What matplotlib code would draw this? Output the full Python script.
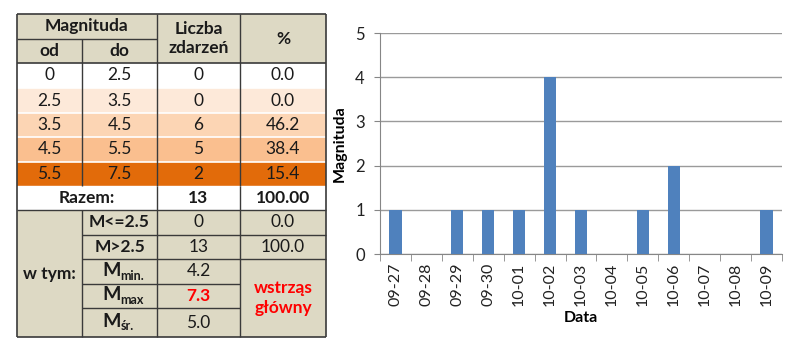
import matplotlib
matplotlib.use('Agg')
from matplotlib import pyplot as plt
from matplotlib.patches import Rectangle
import numpy as np

plt.rcParams['font.family'] = ['Lato', 'DejaVu Sans']

# chart data
dates = ['09-27', '09-28', '09-29', '09-30', '10-01', '10-02', '10-03',
         '10-04', '10-05', '10-06', '10-07', '10-08', '10-09']
counts = [1, 0, 1, 1, 1, 4, 1, 0, 1, 2, 0, 0, 1]

# table data
mag_from = ['0', '2.5', '3.5', '4.5', '5.5']
mag_to = ['2.5', '3.5', '4.5', '5.5', '7.5']
n_events = ['0', '0', '6', '5', '2']
percent = ['0.0', '0.0', '46.2', '38.4', '15.4']
total_n = '13'
total_pct = '100.00'
sub_names = [('M', '<=2.5'), ('M', '>2.5'), ('M', 'min.'), ('M', 'max'), ('M', 'śr.')]
sub_n = ['0', '13', '4.2', '7.3', '5.0']
sub_pct = ['0.0', '100.0']
note = 'wstrząs\ngłówny'

row_colors = ['#FFFFFF', '#FDE9D9', '#FCD5B4', '#FABF8F', '#E26B0A']
tan = '#DDD9C4'
edge = '#3a3a3a'

fig = plt.figure(figsize=(8, 3.48), dpi=100)

# ---- table, drawn in pixel coordinates
ax_t = fig.add_axes([0, 0, 1, 1])
ax_t.set_xlim(0, 800)
ax_t.set_ylim(348, 0)
ax_t.axis('off')

cx = [17, 82, 157, 240, 326]
ry = [14, 38.5, 63, 88, 113, 137, 162, 185.5, 210, 234.5, 259, 284, 308, 337]
fs = 12.5


def cell(c0, c1, r0, r1, fc, txt=None, bold=False, color='#1a1a1a', size=fs):
    x0, x1 = cx[c0], cx[c1]
    y0, y1 = ry[r0], ry[r1]
    ax_t.add_patch(Rectangle((x0, y0), x1 - x0, y1 - y0, facecolor=fc,
                             edgecolor='none', zorder=1))
    if txt is not None:
        ax_t.text((x0 + x1) / 2, (y0 + y1) / 2, txt, ha='center', va='center',
                  fontsize=size, fontweight='bold' if bold else 'normal',
                  color=color, zorder=3, linespacing=1.25)


def hline(c0, c1, y, color=edge, lw=1.0):
    ax_t.plot([cx[c0], cx[c1]], [y, y], color=color, lw=lw, zorder=2,
              solid_capstyle='butt')


def vline(x, r0, r1, color=edge, lw=1.0):
    ax_t.plot([x, x], [ry[r0], ry[r1]], color=color, lw=lw, zorder=2,
              solid_capstyle='butt')


# header
cell(0, 2, 0, 1, tan, 'Magnituda', bold=True)
cell(0, 1, 1, 2, tan, 'od', bold=True)
cell(1, 2, 1, 2, tan, 'do', bold=True)
cell(2, 3, 0, 2, tan, 'Liczba\nzdarzeń', bold=True)
cell(3, 4, 0, 2, tan, '%', bold=True)

# magnitude classes
for i in range(5):
    r = 2 + i
    cell(0, 1, r, r + 1, row_colors[i], mag_from[i])
    cell(1, 2, r, r + 1, row_colors[i], mag_to[i])
    cell(2, 3, r, r + 1, row_colors[i], n_events[i])
    cell(3, 4, r, r + 1, row_colors[i], percent[i])

# total
cell(0, 2, 7, 8, 'white', 'Razem:', bold=True)
cell(2, 3, 7, 8, 'white', total_n, bold=True)
cell(3, 4, 7, 8, 'white', total_pct, bold=True)

# sub rows
cell(0, 1, 8, 13, tan, 'w tym:', bold=True)
for i in range(5):
    r = 8 + i
    cell(1, 2, r, r + 1, tan)
    base, sub = sub_names[i]
    xm = (cx[1] + cx[2]) / 2
    ym = (ry[r] + ry[r + 1]) / 2
    if i < 2:
        ax_t.text(xm, ym, base + sub, ha='center', va='center', fontsize=fs,
                  fontweight='bold', color='#1a1a1a', zorder=3)
    else:
        ax_t.text(xm + 1, ym - 1, base, ha='right', va='center', fontsize=fs + 1.5,
                  fontweight='bold', color='#1a1a1a', zorder=3)
        ax_t.text(xm + 1, ym + 4, sub, ha='left', va='center', fontsize=fs - 3.5,
                  fontweight='bold', color='#1a1a1a', zorder=3)
    red = i == 3
    cell(2, 3, r, r + 1, tan, sub_n[i], bold=red,
         color='#FF0000' if red else '#1a1a1a')
for i in range(2):
    cell(3, 4, 8 + i, 9 + i, tan, sub_pct[i])
cell(3, 4, 10, 13, tan, note, bold=True, color='#FF0000')

# grid lines
for r in [0, 2, 13]:
    hline(0, 4, ry[r], lw=1.2)
hline(0, 2, ry[1])
for r in [3, 4, 5, 6]:
    hline(0, 4, ry[r], color='white', lw=1.2)
hline(0, 4, ry[7], color='white', lw=1.0)
hline(0, 4, ry[8], lw=1.0)
for r in [9, 10, 11, 12]:
    hline(1, 3, ry[r])
for r in [9, 10]:
    hline(3, 4, ry[r])
vline(cx[0], 0, 13, lw=1.2)
vline(cx[4], 0, 13, lw=1.2)
vline(cx[1], 1, 7)
vline(cx[2], 0, 7)
vline(cx[3], 0, 7)
vline(cx[2], 7, 8)
vline(cx[3], 7, 8)
vline(cx[1], 8, 13)
vline(cx[2], 8, 13)
vline(cx[3], 8, 13)

# ---- bar chart
ax = fig.add_axes([0.475, 0.27, 0.5025, 0.635])
x = np.arange(len(dates))
ax.bar(x, counts, width=0.4, color='#4F81BD', zorder=3)
ax.set_xlim(-0.5, len(dates) - 0.5)
ax.set_ylim(0, 5)
ax.set_yticks(range(6))
ax.set_xticks(x)
ax.set_xticklabels(dates, rotation=90, fontsize=11.5, color='#222222')
ax.set_xticks(np.arange(len(dates) + 1) - 0.5, minor=True)
ax.tick_params(axis='x', which='major', length=0, pad=6)
ax.tick_params(axis='x', which='minor', length=5, color='#868686', direction='out')
ax.tick_params(axis='y', length=4, color='#868686', labelsize=12, labelcolor='#222222', pad=7)
ax.grid(axis='y', color='#9a9a9a', lw=1.0, zorder=0)
for s in ['top', 'right']:
    ax.spines[s].set_visible(False)
for s in ['left', 'bottom']:
    ax.spines[s].set_color('#868686')
ax.set_xlabel('Data', fontsize=11.5, fontweight='bold', labelpad=4)
ax.set_ylabel('Magnituda', fontsize=11.5, fontweight='bold', labelpad=6)

fig.savefig('out.png', dpi=100)
